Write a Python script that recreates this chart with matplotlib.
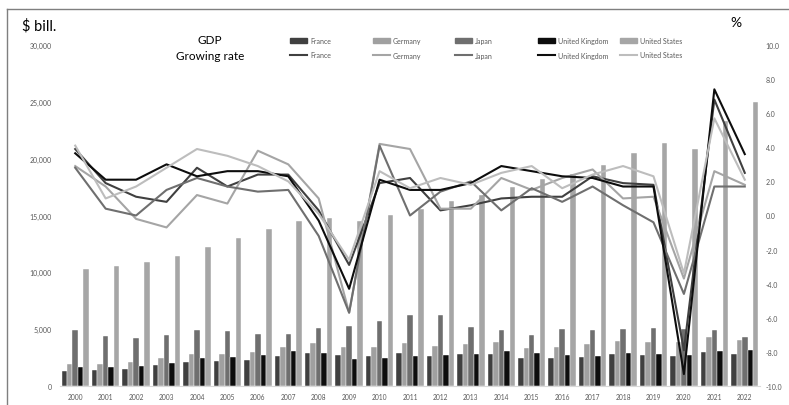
import numpy as np
import matplotlib.pyplot as plt
from matplotlib.lines import Line2D
from matplotlib.patches import Rectangle

plt.rcParams['font.family'] = ['Lato', 'DejaVu Sans']

years = [str(y) for y in range(2000, 2023)]
countries = ['France', 'Germany', 'Japan', 'United Kingdom', 'United States']

# GDP, $ bill.
gdp_fr = [1362, 1377, 1494, 1840, 2116, 2197, 2320, 2660, 2930, 2700, 2643, 2862, 2683, 2811, 2852,
          2438, 2471, 2595, 2791, 2729, 2639, 2958, 2780]
gdp_de = [1948, 1945, 2079, 2505, 2815, 2846, 2994, 3425, 3745, 3412, 3400, 3750, 3528, 3733, 3889,
          3357, 3469, 3690, 3975, 3889, 3887, 4278, 4082]
gdp_jp = [4968, 4374, 4182, 4519, 4893, 4831, 4601, 4579, 5106, 5289, 5759, 6233, 6272, 5212, 4897,
          4444, 5004, 4931, 5041, 5118, 5055, 4941, 4300]
gdp_uk = [1666, 1649, 1785, 2055, 2422, 2544, 2719, 3090, 2930, 2412, 2485, 2664, 2707, 2786, 3065,
          2928, 2694, 2676, 2875, 2857, 2704, 3123, 3160]
gdp_us = [10251, 10582, 10929, 11457, 12217, 13039, 13816, 14474, 14770, 14478, 15049, 15600, 16254,
          16843, 17551, 18206, 18695, 19477, 20533, 21381, 20894, 23315, 24950]

# growing rate, %
gr_fr = [3.9, 1.9, 1.1, 0.8, 2.8, 1.7, 2.4, 2.4, 0.3, -2.9, 1.9, 2.2, 0.3, 0.6, 1.0, 1.1, 1.1, 2.3,
         1.9, 1.8, -7.9, 6.8, 2.5]
gr_de = [2.9, 1.7, -0.2, -0.7, 1.2, 0.7, 3.8, 3.0, 1.0, -5.7, 4.2, 3.9, 0.4, 0.4, 2.2, 1.5, 2.2, 2.7,
         1.0, 1.1, -3.7, 2.6, 1.8]
gr_jp = [2.8, 0.4, 0.0, 1.5, 2.2, 1.7, 1.4, 1.5, -1.2, -5.7, 4.1, 0.0, 1.4, 2.0, 0.3, 1.6, 0.8, 1.7,
         0.6, -0.4, -4.6, 1.7, 1.7]
gr_uk = [3.65, 2.1, 2.1, 3.0, 2.3, 2.6, 2.6, 2.3, -0.3, -4.3, 2.1, 1.5, 1.5, 1.9, 2.9, 2.6, 2.3, 2.2,
         1.7, 1.7, -9.3, 7.4, 3.6]
gr_us = [4.1, 1.0, 1.7, 2.8, 3.9, 3.5, 2.9, 2.0, 0.1, -2.6, 2.6, 1.6, 2.2, 1.8, 2.5, 2.9, 1.6, 2.4,
         2.9, 2.3, -3.4, 5.7, 2.1]

gdp = [gdp_fr, gdp_de, gdp_jp, gdp_uk, gdp_us]
growth = [gr_fr, gr_de, gr_jp, gr_uk, gr_us]
bar_colors = ['#404040', '#a0a0a0', '#6f6f6f', '#0d0d0d', '#a6a6a6']
line_colors = ['#404040', '#a5a5a5', '#6f6f6f', '#0d0d0d', '#bdbdbd']

W, H = 789, 406
fig = plt.figure(figsize=(W / 100, H / 100), dpi=100)

def fx(px):
    return px / W

def fy(py):
    return 1 - py / H

ax = fig.add_axes([fx(60), fy(387), fx(700), (387 - 46) / H])
x = np.arange(len(years))
bw = 0.18
for i in range(5):
    ax.bar(x + (i - 2) * bw, gdp[i], bw, color=bar_colors[i], edgecolor='white', linewidth=0.3)
ax.set_xlim(-0.5, len(years) - 0.5)
ax.set_ylim(0, 30000)
ax.set_yticks(range(0, 30001, 5000))
ax.set_yticklabels(['{:,}'.format(v) for v in range(0, 30001, 5000)])
ax.set_xticks(x)
ax.set_xticklabels(years)
for s in ['top', 'right', 'left']:
    ax.spines[s].set_visible(False)
ax.spines['bottom'].set_color('#d9d9d9')
ax.tick_params(axis='both', length=0, labelsize=5, labelcolor='#595959')
ax.tick_params(axis='y', pad=6)
ax.tick_params(axis='x', pad=5, labelsize=4.8)

ax2 = ax.twinx()
for i in range(5):
    ax2.plot(x, growth[i], color=line_colors[i], lw=1.5)
ax2.set_ylim(-10, 10)
ax2.set_yticks(np.arange(-10, 10.1, 2))
ax2.set_yticklabels(['{:.1f}'.format(v) for v in np.arange(-10, 10.1, 2)])
for s in ax2.spines.values():
    s.set_visible(False)
ax2.tick_params(axis='y', length=0, labelsize=5, labelcolor='#595959', pad=4)

# labels
fig.text(fx(22), fy(26), '$ bill.', fontsize=10.5, va='center', ha='left')
fig.text(fx(736), fy(23), '%', fontsize=10, va='center', ha='center')
fig.text(fx(210), fy(41), 'GDP', fontsize=8.5, va='center', ha='center')
fig.text(fx(210), fy(57), 'Growing rate', fontsize=8.5, va='center', ha='center')

# legend
for i, name in enumerate(countries):
    x0 = 290 + 82.6 * i
    fig.add_artist(Rectangle((fx(x0), fy(44)), fx(17), 5 / H, transform=fig.transFigure,
                             color=bar_colors[i]))
    fig.text(fx(x0 + 20), fy(41.5), name, fontsize=5, va='center', ha='left', color='#595959')
    fig.add_artist(Line2D([fx(x0), fx(x0 + 17)], [fy(56), fy(56)], transform=fig.transFigure,
                          color=line_colors[i], lw=1.5))
    fig.text(fx(x0 + 20), fy(56), name, fontsize=5, va='center', ha='left', color='#595959')

# chart border
fig.add_artist(Line2D([fx(7), fx(7)], [fy(10), 0], transform=fig.transFigure, color='#7f7f7f', lw=1))
fig.add_artist(Line2D([fx(7), 1], [fy(10), fy(10)], transform=fig.transFigure, color='#7f7f7f', lw=1))

fig.savefig('out.png', dpi=100)
